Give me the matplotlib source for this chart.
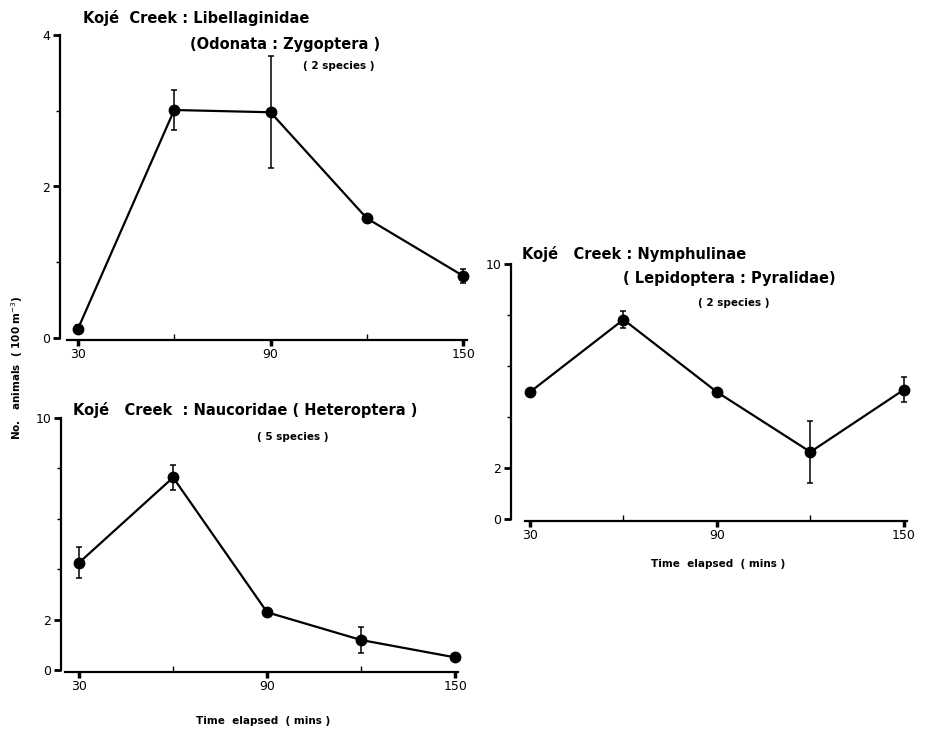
import matplotlib
matplotlib.use("Agg")
import matplotlib.pyplot as plt
import numpy as np

# -- data --
time_mins = [30, 60, 90, 120, 150]

libel_mean = [0.12, 3.01, 2.98, 1.58, 0.82]
libel_err = [0.05, 0.27, 0.74, 0.03, 0.09]

nauco_mean = [4.26, 7.64, 2.29, 1.19, 0.50]
nauco_err = [0.61, 0.48, 0.06, 0.53, 0.10]

nymph_mean = [4.98, 7.82, 4.98, 2.63, 5.07]
nymph_err = [0.06, 0.34, 0.06, 1.21, 0.50]

W, H = 925, 731
font_title = {'family': 'DejaVu Sans', 'weight': 'bold', 'size': 10.5}
font_small = {'family': 'DejaVu Sans', 'weight': 'bold', 'size': 7.5}
font_tick = {'family': 'DejaVu Sans', 'size': 9}


def px_axes(fig, left, right, top, bottom):
    # pixel box -> figure fraction
    return fig.add_axes([left / W, (H - bottom) / H, (right - left) / W, (bottom - top) / H])


def panel(ax, mean, err, xlim, ylim, yticks_major, yticks_minor, yspine_out):
    ax.errorbar(time_mins, mean, yerr=err, color='black', lw=1.6, marker='o',
                markersize=7.5, elinewidth=1.1, capsize=2.5, capthick=1.1, clip_on=False, zorder=3)
    ax.set_xlim(xlim)
    ax.set_ylim(ylim)
    for s in ['top', 'right']:
        ax.spines[s].set_visible(False)
    ax.spines['left'].set_position(('outward', yspine_out))
    ax.spines['bottom'].set_position(('outward', 1.5))
    ax.spines['left'].set_linewidth(1.6)
    ax.spines['bottom'].set_linewidth(1.6)
    ax.spines['left'].set_bounds(ylim[0], ylim[1])
    ax.set_xticks([30, 90, 150])
    ax.set_xticklabels(['30', '90', '150'], fontdict=font_tick)
    ax.set_xticks([60, 120], minor=True)
    ax.set_yticks(yticks_major)
    ax.set_yticklabels([str(v) for v in yticks_major], fontdict=font_tick)
    ax.set_yticks(yticks_minor, minor=True)
    ax.tick_params(axis='x', which='major', direction='out', length=4, width=2.5, pad=2)
    ax.tick_params(axis='x', which='minor', direction='in', length=4, width=1)
    ax.tick_params(axis='y', which='major', direction='out', length=5, width=2, pad=2)
    ax.tick_params(axis='y', which='minor', direction='out', length=3, width=1)
    ax.patch.set_alpha(0)


fig = plt.figure(figsize=(W / 100, H / 100), dpi=100)

# top left: Libellaginidae
ax1 = px_axes(fig, 67, 467, 35, 338)
panel(ax1, libel_mean, libel_err, (26.6, 151.2), (0, 4), [0, 2, 4], [1, 3], 5)

# bottom left: Naucoridae
ax2 = px_axes(fig, 65, 458, 418, 670)
panel(ax2, nauco_mean, nauco_err, (25.5, 150.9), (0, 10), [0, 2, 10], [4, 6, 8], 3)

# right: Nymphulinae
ax3 = px_axes(fig, 525, 907, 264, 519)
panel(ax3, nymph_mean, nymph_err, (28.4, 151.0), (0, 10), [0, 2, 10], [4, 6, 8], 10)


def ftext(x, y, s, fd, ha='left'):
    fig.text(x / W, 1 - y / H, s, fontdict=fd, ha=ha, va='center')


ftext(83, 18, 'Kojé  Creek : Libellaginidae', font_title)
ftext(190, 45, '(Odonata : Zygoptera )', font_title)
ftext(303, 66, '( 2 species )', font_small)

ftext(73, 410, 'Kojé   Creek  : Naucoridae ( Heteroptera )', font_title)
ftext(257, 437, '( 5 species )', font_small)
ftext(263, 721, 'Time  elapsed  ( mins )', font_small, ha='center')

ftext(522, 254, 'Kojé   Creek : Nymphulinae', font_title)
ftext(623, 278, '( Lepidoptera : Pyralidae)', font_title)
ftext(698, 303, '( 2 species )', font_small)
ftext(718, 564, 'Time  elapsed  ( mins )', font_small, ha='center')

fig.text(17 / W, 1 - 368 / H, 'No.   animals  ( 100 m$^{-3}$)', rotation=90,
         ha='center', va='center', fontdict=font_small)

plt.savefig('out.png', dpi=100)
